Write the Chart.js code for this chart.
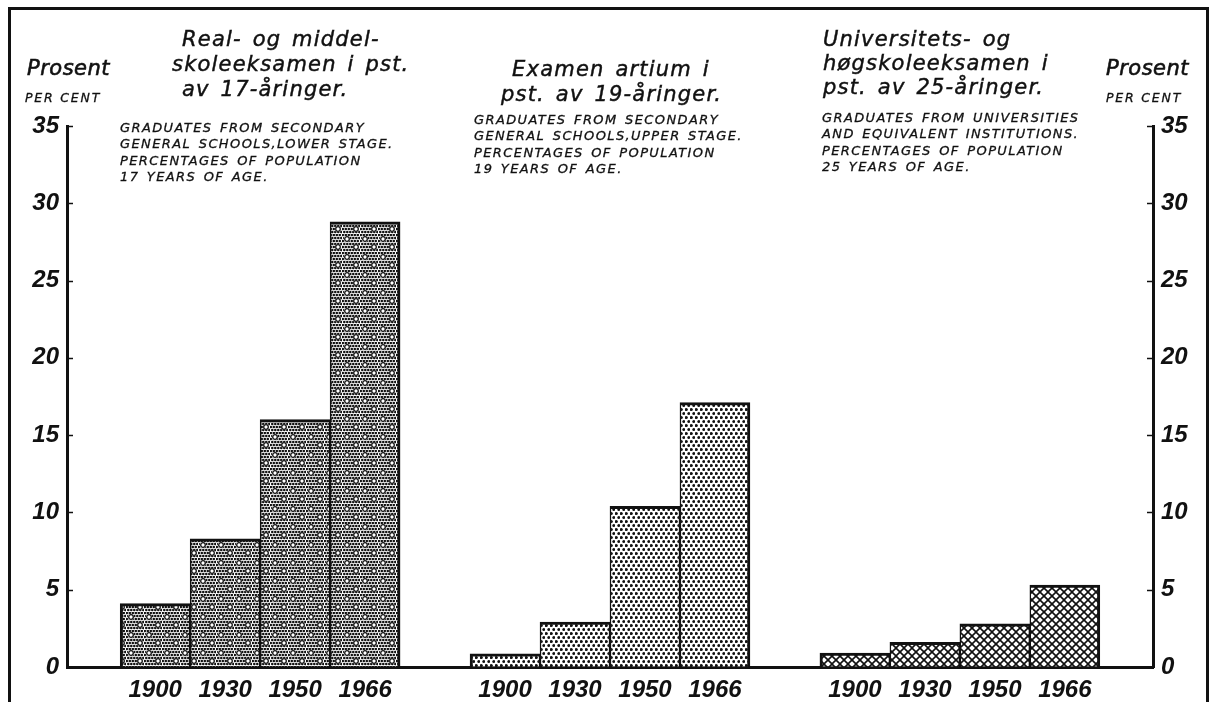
<!DOCTYPE html>
<html>
<head>
<meta charset="utf-8">
<script src="https://cdn.jsdelivr.net/npm/chart.js@4/dist/chart.umd.min.js"></script>
<style>
  html,body{margin:0;padding:0;background:#fff;}
  #wrap{position:relative;width:1218px;height:702px;overflow:hidden;background:#fff;}
  #frame{position:absolute;left:8px;top:7px;width:1201px;height:730px;border:3px solid #111;box-sizing:border-box;pointer-events:none;}
  .t{position:absolute;font-family:"DejaVu Sans",sans-serif;font-style:italic;color:#111;white-space:nowrap;-webkit-text-stroke:0.45px #111;}
  .big{font-size:21px;letter-spacing:1.2px;word-spacing:3px;line-height:25px;}
  .small{font-size:13px;letter-spacing:1.4px;word-spacing:2px;line-height:16.4px;-webkit-text-stroke:0.3px #111;}
  .pros{font-size:21px;letter-spacing:0.5px;-webkit-text-stroke:0.6px #111;}
  .pc{font-size:12.5px;letter-spacing:1.8px;-webkit-text-stroke:0.3px #111;}
</style>
</head>
<body>
<div id="wrap">
  <canvas id="c" width="1218" height="702"></canvas>
  <div id="frame"></div>

  <div class="t pros" style="left:27px;top:56px;">Prosent</div>
  <div class="t pc" style="left:25px;top:90px;">PER CENT</div>
  <div class="t pros" style="left:1106px;top:56px;">Prosent</div>
  <div class="t pc" style="left:1106px;top:90px;">PER CENT</div>

  <div class="t big" style="left:172px;top:27px;">
    <div style="padding-left:10px">Real- og middel-</div>
    <div>skoleeksamen i pst.</div>
    <div style="padding-left:10px">av 17-åringer.</div>
  </div>
  <div class="t small" style="left:120px;top:120px;">
    <div>GRADUATES FROM SECONDARY</div>
    <div>GENERAL SCHOOLS,LOWER STAGE.</div>
    <div>PERCENTAGES OF POPULATION</div>
    <div>17 YEARS OF AGE.</div>
  </div>

  <div class="t big" style="left:501px;top:57px;width:220px;text-align:center;">
    <div>Examen artium i</div>
    <div>pst. av 19-åringer.</div>
  </div>
  <div class="t small" style="left:474px;top:112px;">
    <div>GRADUATES FROM SECONDARY</div>
    <div>GENERAL SCHOOLS,UPPER STAGE.</div>
    <div>PERCENTAGES OF POPULATION</div>
    <div>19 YEARS OF AGE.</div>
  </div>

  <div class="t big" style="left:823px;top:27px;line-height:24px;">
    <div>Universitets- og</div>
    <div>høgskoleeksamen i</div>
    <div>pst. av 25-åringer.</div>
  </div>
  <div class="t small" style="left:822px;top:110px;">
    <div>GRADUATES FROM UNIVERSITIES</div>
    <div>AND EQUIVALENT INSTITUTIONS.</div>
    <div>PERCENTAGES OF POPULATION</div>
    <div>25 YEARS OF AGE.</div>
  </div>
</div>

<script>
/* ===== DATA ===== */
const years=['1900','1930','1950','1966'];
const realSkole=[4.1,8.3,16.0,28.8];   // real- og middelskoleeksamen, % av 17-åringer
const artium=[0.85,2.9,10.4,17.1];     // examen artium, % av 19-åringer
const univ=[0.9,1.6,2.8,5.3];          // universitets- og høgskoleeksamen, % av 25-åringer
const yTicks=[0,5,10,15,20,25,30,35];

// categories, one empty slot between the groups
const groups=[realSkole,artium,univ];
const labels=[];
const values=[];
const groupOf=[];
groups.forEach((g,gi)=>{
  if(gi>0){labels.push('');values.push(null);groupOf.push(-1);}
  years.forEach((y,i)=>{labels.push(y);values.push(g[i]);groupOf.push(gi);});
});
const EDGE_GAP=0.76; // blank space (in bar widths) between y axes and outer bars

/* ===== PATTERNS ===== */
function tile(w,h,draw){
  const c=document.createElement('canvas');c.width=w;c.height=h;
  const x=c.getContext('2d');x.fillStyle='#fff';x.fillRect(0,0,w,h);
  x.fillStyle='#111';x.strokeStyle='#111';draw(x);
  return x.createPattern(c,'repeat');
}
const dot=(x,px,py,r)=>{x.beginPath();x.arc(px,py,r,0,Math.PI*2);x.fill();};
const patCircles=tile(18,18,x=>{
  for(let r=0;r<6;r++)for(let i=0;i<6;i++) dot(x,i*3+(r%2)*1.5+0.8,r*3+1,1.3);
  [[5,5],[14,13]].forEach(([cx,cy])=>{
    x.fillStyle='#fff';x.beginPath();x.arc(cx,cy,3.1,0,Math.PI*2);x.fill();
    x.lineWidth=1.3;x.beginPath();x.arc(cx,cy,2.3,0,Math.PI*2);x.stroke();
    x.fillStyle='#111';
  });
});
const patDots=tile(5,8,x=>{
  dot(x,1.3,1.5,1.5);dot(x,3.8,5.5,1.5);
});
const patHatch=tile(8,8,x=>{
  x.lineWidth=1.6;
  for(const k of [-8,0,8]){
    x.beginPath();x.moveTo(k,0);x.lineTo(k+8,8);x.stroke();
    x.beginPath();x.moveTo(k,8);x.lineTo(k+8,0);x.stroke();
  }
});
const pats=[patCircles,patDots,patHatch];

/* ===== CHART ===== */
const FONT='"Liberation Sans", sans-serif';
const INK='#111';

const innerTicks={
  id:'innerTicks',
  afterDraw(chart){
    const {ctx,chartArea:a}=chart;
    ctx.save();ctx.strokeStyle=INK;ctx.lineWidth=1.5;
    ['y','y2'].forEach(id=>{
      const s=chart.scales[id];
      s.ticks.forEach(t=>{
        const py=Math.round(s.getPixelForValue(t.value))+0.5;
        ctx.beginPath();
        if(id==='y'){ctx.moveTo(a.left,py);ctx.lineTo(a.left+6,py);}
        else{ctx.moveTo(a.right-6,py);ctx.lineTo(a.right,py);}
        ctx.stroke();
      });
    });
    ctx.restore();
  }
};

const yScale=(pos)=>({
  position:pos,min:0,max:35,
  afterBuildTicks:s=>{s.ticks=yTicks.map(v=>({value:v}));},
  afterFit:s=>{s.width=pos==='left'?67:65;},
  grid:{display:true,drawOnChartArea:false,drawTicks:false},
  border:{display:true,color:INK,width:3},
  ticks:{color:INK,padding:8,font:{family:FONT,size:24,style:'italic',weight:'bold'}}
});

new Chart(document.getElementById('c'),{
  type:'bar',
  data:{
    labels:labels,
    datasets:[{
      data:values,
      yAxisID:'y',
      backgroundColor:ctx=>pats[groupOf[ctx.dataIndex]]||'#fff',
      borderColor:INK,
      borderWidth:ctx=>{
        const i=ctx.dataIndex;
        return{top:3,bottom:0,
          left:groupOf[i-1]!==groupOf[i]?3:1.5,
          right:groupOf[i+1]!==groupOf[i]?3:1.5};
      },
      borderSkipped:false,
      barPercentage:1,categoryPercentage:1
    }]
  },
  options:{
    responsive:false,animation:false,
    layout:{padding:{top:126,left:0,right:0,bottom:0}},
    plugins:{legend:{display:false},tooltip:{enabled:false},title:{display:false}},
    scales:{
      x:{
        afterFit:s=>{s.height=702-667;},
        // widen the category range so the outer bars sit EDGE_GAP bars from the axes
        afterBuildTicks:s=>{
          s._startValue=-0.5-EDGE_GAP;
          s._valueRange=labels.length+2*EDGE_GAP;
        },
        grid:{display:true,drawOnChartArea:false,drawTicks:false},
        border:{display:true,color:INK,width:3},
        ticks:{color:INK,padding:9,maxRotation:0,autoSkip:false,font:{family:FONT,size:24,style:'italic',weight:'bold'}}
      },
      y:yScale('left'),
      y2:yScale('right')
    }
  },
  plugins:[innerTicks]
});
</script>
</body>
</html>
